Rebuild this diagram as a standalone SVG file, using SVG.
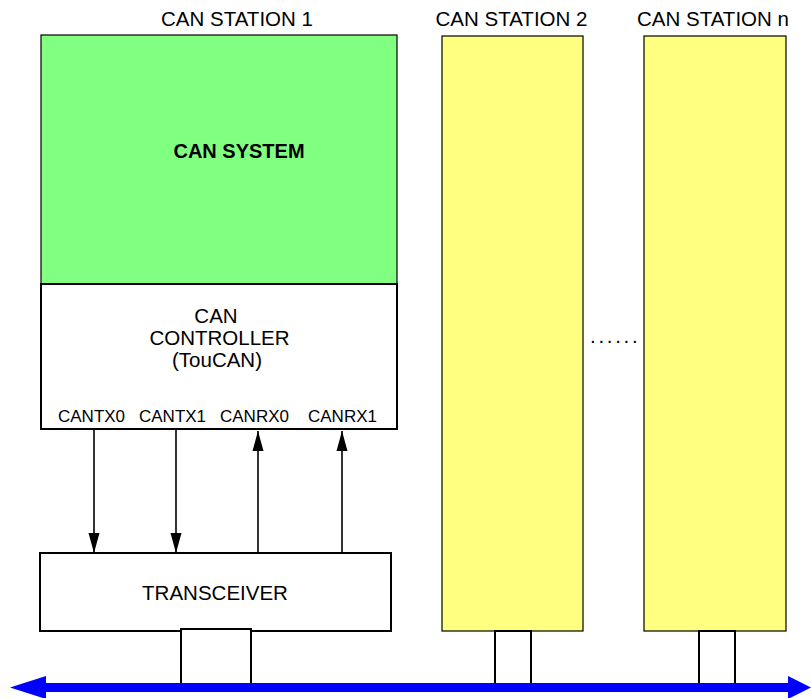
<svg xmlns="http://www.w3.org/2000/svg" width="811" height="698" viewBox="0 0 811 698">
<style>
text{font-family:"Liberation Sans",Arial,sans-serif;fill:#000}
.t{font-size:20.5px}
.p{font-size:17px}
.b{font-size:20px;font-weight:bold}
.box{fill:#fff;stroke:#000;stroke-width:2}
.yel{fill:#ffff80;stroke:#000;stroke-width:1.2}
.conn{stroke:#000;stroke-width:1.6;fill:none}
</style>
<defs>
<marker id="ad" markerUnits="userSpaceOnUse" markerWidth="22" markerHeight="12" viewBox="0 0 22 12" refX="20" refY="6" orient="auto">
<path d="M0,0.5 L20,6 L0,11.5 Z" fill="#000"/>
</marker>
</defs>
<rect width="811" height="698" fill="#fff"/>
<g id="station1">
<text class="t" x="237" y="26" text-anchor="middle">CAN STATION 1</text>
<g id="can-system">
<rect x="41" y="35" width="356" height="249" fill="#80ff80" stroke="#000" stroke-width="1.2"/>
<text class="b" x="239" y="158" text-anchor="middle">CAN SYSTEM</text>
</g>
<g id="can-controller">
<rect class="box" x="41" y="284" width="356" height="145"/>
<text class="t" x="216" y="323" text-anchor="middle">CAN</text>
<text class="t" x="219.5" y="345" text-anchor="middle">CONTROLLER</text>
<text class="t" x="217" y="367" text-anchor="middle">(TouCAN)</text>
<text class="p" x="58" y="422">CANTX0</text>
<text class="p" x="139" y="422">CANTX1</text>
<text class="p" x="220" y="422">CANRX0</text>
<text class="p" x="308" y="422">CANRX1</text>
</g>
<g id="transceiver">
<rect class="box" x="40" y="553" width="351" height="78"/>
<text class="t" x="215" y="600" text-anchor="middle">TRANSCEIVER</text>
</g>
<g id="tap1"><rect class="box" x="181" y="629" width="70" height="58"/></g>
</g>
<g id="station2">
<text class="t" x="511.5" y="26" text-anchor="middle">CAN STATION 2</text>
<rect class="yel" x="442" y="36" width="141" height="595"/>
<g id="tap2"><rect class="box" x="495" y="631" width="36" height="56"/></g>
</g>
<g id="dots"><text class="t" x="590" y="343" style="letter-spacing:2.7px">......</text></g>
<g id="stationn">
<text class="t" x="713" y="26" text-anchor="middle">CAN STATION n</text>
<rect class="yel" x="644" y="36" width="142" height="595"/>
<g id="tapn"><rect class="box" x="699" y="631" width="36" height="56" stroke-width="1.6"/></g>
</g>
<g id="connectors">
<line class="conn" x1="94" y1="429" x2="94" y2="553" marker-end="url(#ad)"/>
<line class="conn" x1="176" y1="429" x2="176" y2="553" marker-end="url(#ad)"/>
<line class="conn" x1="258" y1="553" x2="258" y2="431" marker-end="url(#ad)"/>
<line class="conn" x1="342" y1="553" x2="342" y2="431" marker-end="url(#ad)"/>
<g id="bus">
<rect x="44" y="683" width="746" height="9" fill="#0000ff"/>
<polygon points="10,687.5 46,676 46,699" fill="#0000ff"/>
<polygon points="811,687.5 788,676 788,699" fill="#0000ff"/>
</g>
</g>
</svg>
